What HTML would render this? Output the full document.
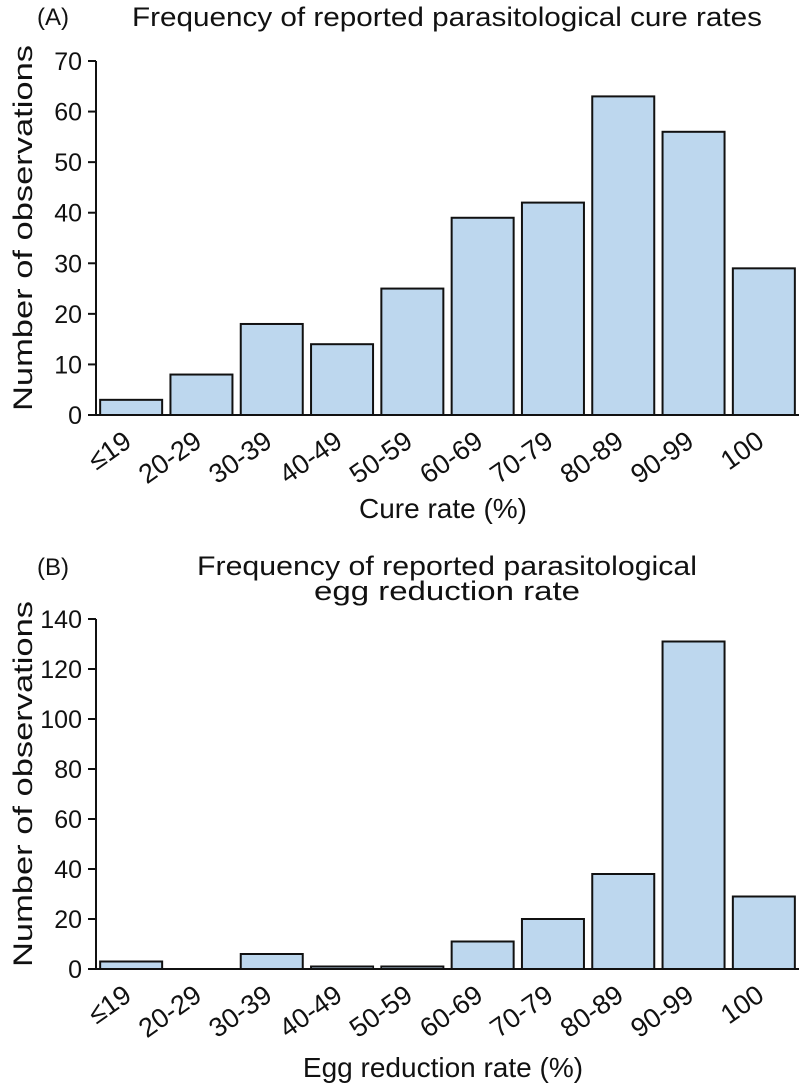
<!DOCTYPE html>
<html><head><meta charset="utf-8"><style>
html,body{margin:0;padding:0;background:#fff;}
svg{display:block;font-family:"Liberation Sans",Arial,sans-serif;}
</style></head><body>
<svg id="chart" width="800" height="1085" viewBox="0 0 800 1085" xmlns="http://www.w3.org/2000/svg">
<g id="gA"></g>
<g id="gB"></g>
</svg>
<script>
const categories = ["≤19","20-29","30-39","40-49","50-59","60-69","70-79","80-89","90-99","100"];
const cureValues = [3,8,18,14,25,39,42,63,56,29];
const eggValues = [3,0,6,1,1,11,20,38,131,29];
const ticksA = [0,10,20,30,40,50,60,70];
const ticksB = [0,20,40,60,80,100,120,140];

const NS = "http://www.w3.org/2000/svg";
function mk(tag, attrs, parent, text){
  const e = document.createElementNS(NS, tag);
  for (const k in attrs) e.setAttribute(k, attrs[k]);
  if (text !== undefined) e.textContent = text;
  parent.appendChild(e);
  return e;
}
function drawPanel(g, vals, ticks, cfg){
  const x0 = 96, x1 = 799, step = (x1 - x0) / categories.length;
  const yMax = ticks[ticks.length-1];
  const y = v => cfg.base - (v / yMax) * (cfg.base - cfg.top);
  const xc = i => x0 + step * (i + 0.5);
  vals.forEach((v, i) => {
    if (v <= 0) return;
    const r = mk("rect", {x: xc(i) - 31, y: y(v), width: 62, height: cfg.base - y(v), fill: "#bdd7ee", stroke: "#111", "stroke-width": 2}, g);
    
    
  });
  const ya = mk("line", {x1: x0, y1: cfg.top, x2: x0, y2: cfg.base, stroke: "#111", "stroke-width": 2}, g);
  
  
  const xa = mk("line", {x1: x0 - 8, y1: cfg.base, x2: x1, y2: cfg.base, stroke: "#111", "stroke-width": 2}, g);
  
  
  ticks.forEach(t => {
    mk("line", {x1: x0 - 8, y1: y(t), x2: x0, y2: y(t), stroke: "#111", "stroke-width": 2}, g);
    const tl = mk("text", {x: x0 - 14, y: y(t) + 9, "text-anchor": "end", "font-size": 25, fill: "#111"}, g, String(t));
    
    
  });
  categories.forEach((c, i) => {
    const tx = xc(i) + 2, ty = cfg.base + 30;
    const tl = mk("text", {x: tx, y: ty, "text-anchor": "end", "font-size": 27, fill: "#111", transform: "rotate(-35 " + tx + " " + ty + ")"}, g, c);
    
    
  });
  const yt = mk("text", {x: 0, y: 0, "text-anchor": "middle", "font-size": 27, fill: "#111", textLength: 366, lengthAdjust: "spacingAndGlyphs", transform: "translate(32 " + ((cfg.top + cfg.base) / 2 - 10) + ") rotate(-90)"}, g, "Number of observations");
  
  
  const xt = mk("text", {x: 443, y: cfg.xTitleY, "text-anchor": "middle", "font-size": 28, fill: "#111"}, g, cfg.xTitle);
  
  
  const lb = mk("text", {x: 37, y: cfg.labelY, "font-size": 24, fill: "#111"}, g, cfg.label);
  
  
  cfg.titles.forEach((t, k) => {
    const tt = mk("text", {x: 447, y: cfg.titleY + k * 25, "text-anchor": "middle", "font-size": 27, fill: "#111", textLength: cfg.titleLens[k], lengthAdjust: "spacingAndGlyphs"}, g, t);
    
    
  });
}
drawPanel(document.getElementById("gA"), cureValues, ticksA, {id: "a", top: 61, base: 415, xTitle: "Cure rate (%)", xTitleY: 518, label: "(A)", labelY: 25, titles: ["Frequency of reported parasitological cure rates"], titleLens: [630], titleY: 26});
drawPanel(document.getElementById("gB"), eggValues, ticksB, {id: "b", top: 619, base: 969, xTitle: "Egg reduction rate (%)", xTitleY: 1077, label: "(B)", labelY: 575, titles: ["Frequency of reported parasitological", "egg reduction rate"], titleLens: [500, 266], titleY: 575});
</script>
</body></html>
